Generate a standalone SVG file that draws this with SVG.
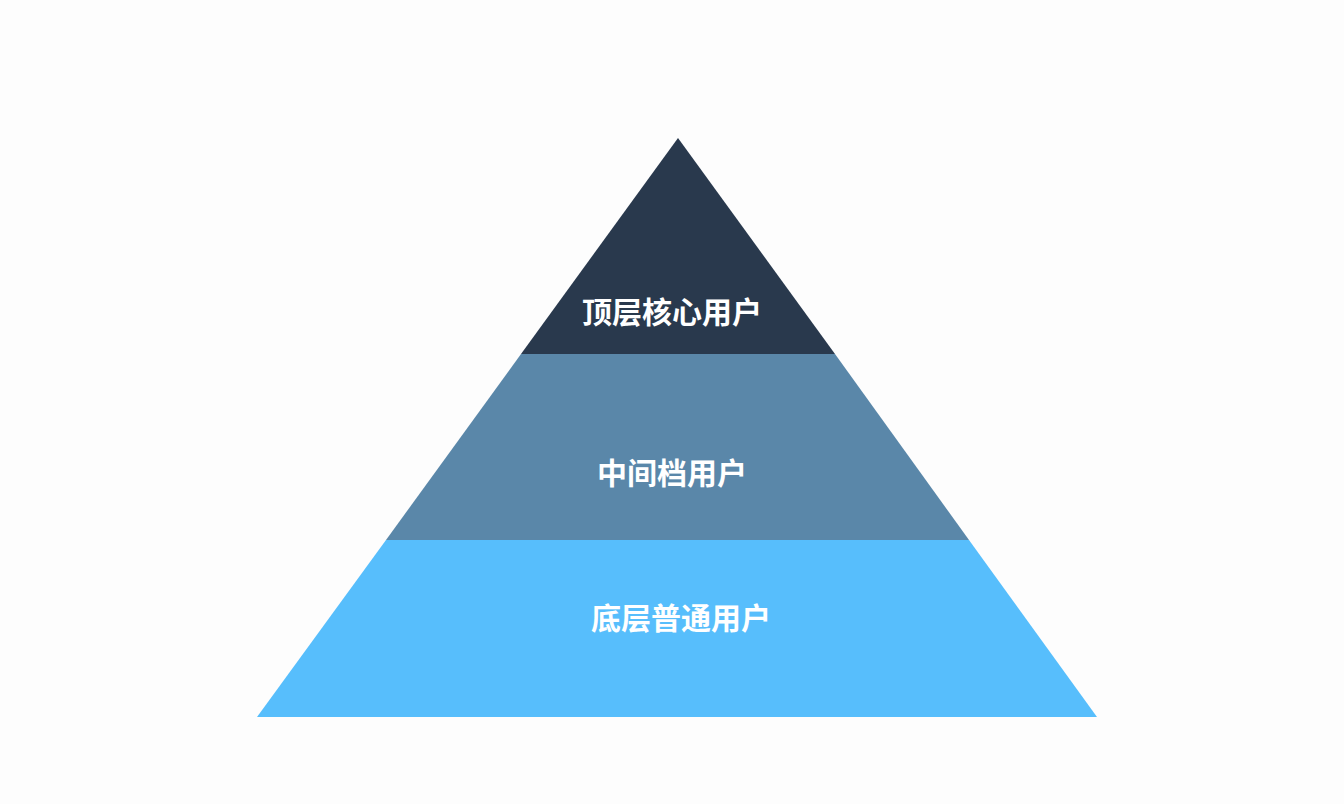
<svg xmlns="http://www.w3.org/2000/svg" width="1344" height="804" viewBox="0 0 1344 804">
<style>
.t{font-family:"Noto Sans CJK SC","Noto Sans",sans-serif;font-size:30px;font-weight:bold;fill:#ffffff;text-anchor:middle}
</style>
<rect width="1344" height="804" fill="#fdfdfd"/>
<g id="top"><polygon points="678,138 835,354 521,354" fill="#29394d"/><text class="t" x="672" y="323">顶层核心用户</text></g>
<g id="middle"><polygon points="521,354 835,354 969,540 386,540" fill="#5a87a9"/><text class="t" x="672" y="484">中间档用户</text></g>
<g id="bottom"><polygon points="386,540 969,540 1097,717 257,717" fill="#57befc"/><text class="t" x="681" y="629">底层普通用户</text></g>
<g id="connectors"/>
</svg>
